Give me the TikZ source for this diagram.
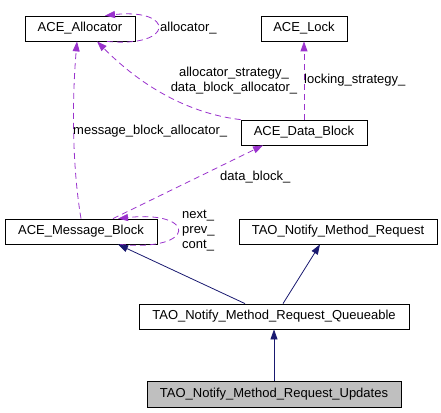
\documentclass[tikz,border=0pt]{standalone}
\usepackage{fontspec}
\setmainfont{Liberation Sans}
\usetikzlibrary{arrows.meta}
\definecolor{collab}{HTML}{9A32CD}
\definecolor{inherit}{HTML}{191970}
\definecolor{hilite}{HTML}{BFBFBF}
\begin{document}
\begin{tikzpicture}[x=1pt,y=-1pt,
  font=\fontsize{13}{15}\selectfont,
  cls/.style={draw=black,line width=0.8pt,inner sep=0pt,minimum height=25pt,fill=white},
  uses/.style={draw=collab,line width=0.8pt,dash pattern=on 6pt off 4pt,
    -{Triangle[length=10pt,width=7pt,fill=collab]}},
  isa/.style={draw=inherit,line width=0.8pt,-{Triangle[length=10pt,width=7pt,fill=inherit]}},
  lbl/.style={inner sep=0pt,text=black}]
\useasboundingbox (0,0) rectangle (441,412);
% classes
\node[cls,minimum width=110pt] (alloc) at (80,28.5) {ACE\_Allocator};
\node[cls,minimum width=86pt] (lock) at (304,28.5) {ACE\_Lock};
\node[cls,minimum width=126pt] (data) at (304,132.5) {ACE\_Data\_Block};
\node[cls,minimum width=152pt] (msg) at (81,231.5) {ACE\_Message\_Block};
\node[cls,minimum width=198pt] (req) at (338,231.5) {TAO\_Notify\_Method\_Request};
\node[cls,minimum width=270pt] (queue) at (274,316.5) {TAO\_Notify\_Method\_Request\_Queueable};
\node[cls,minimum width=254pt,minimum height=26pt,fill=hilite] (upd) at (274,394) {TAO\_Notify\_Method\_Request\_Updates};
% collaboration edges
\draw[uses] ([xshift=27pt]alloc.south) .. controls (175,48) and (175,8) .. ([xshift=25pt]alloc.north);
\draw[uses] (data.north west) .. controls (200,115) and (150,95) .. ([xshift=17pt]alloc.south);
\draw[uses] (data.north) -- (lock.south);
\draw[uses] (msg.north) .. controls (72,165) and (72,100) .. ([xshift=-3pt]alloc.south);
\draw[uses] ([xshift=32pt]msg.north) -- ([xshift=-41pt]data.south);
\draw[uses] ([xshift=39pt]msg.south) .. controls (197,252) and (197,210) .. ([xshift=37pt]msg.north);
% inheritance edges
\draw[isa] ([xshift=-29pt]queue.north) -- ([xshift=37pt]msg.south);
\draw[isa] ([xshift=9pt]queue.north) -- ([xshift=-18pt]req.south);
\draw[isa] (upd.north) -- (queue.south);
% labels
\node[lbl,anchor=west] (l1) at (160,28) {allocator\_};
\node[lbl,align=center] (l2) at (234,80.5) {allocator\_strategy\_\\data\_block\_allocator\_};
\node[lbl,anchor=west] (l3) at (304,80) {locking\_strategy\_};
\node[lbl,anchor=west] (l4) at (73,131) {message\_block\_allocator\_};
\node[lbl,anchor=west] (l5) at (220,177) {data\_block\_};
\node[lbl,anchor=west,align=left] (l6) at (182,231) {next\_\\prev\_\\cont\_};
\end{tikzpicture}
\end{document}
